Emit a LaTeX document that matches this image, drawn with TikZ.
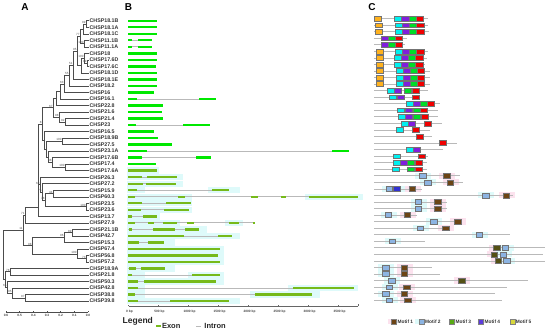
\documentclass[tikz,border=0pt]{standalone}
\usepackage{fontspec}
\setmainfont{Liberation Sans}
\usetikzlibrary{positioning}

\definecolor{exonlime}{RGB}{0,232,0}
\definecolor{exonolive}{RGB}{118,186,26}
\definecolor{introngrey}{RGB}{185,185,185}
\definecolor{bgcyan}{RGB}{222,250,250}
\definecolor{bgpink}{RGB}{252,226,238}
\definecolor{mfive}{RGB}{255,178,30}
\definecolor{mcyan}{RGB}{0,240,240}
\definecolor{mpurple}{RGB}{128,30,220}
\definecolor{mgreen}{RGB}{0,220,40}
\definecolor{mred}{RGB}{240,0,0}
\definecolor{mbrown}{RGB}{108,68,20}
\definecolor{mlblue}{RGB}{140,180,226}
\definecolor{mblue}{RGB}{50,50,210}
\definecolor{molive}{RGB}{84,80,20}
\definecolor{keygreen}{RGB}{88,170,20}
\definecolor{keyviolet}{RGB}{92,60,220}
\definecolor{keyyellow}{RGB}{215,215,60}
\colorlet{bgmlblue}{bgcyan}
\colorlet{bgmblue}{bgcyan}
\colorlet{bgmbrown}{bgpink}
\colorlet{bgmolive}{bgpink}

\tikzset{
  branch/.style={draw=black!70, line width=0.45pt},
  leaf/.style={anchor=west, inner sep=0.4pt, text=black!80,
    font=\fontsize{5.3}{6}\selectfont\bfseries},
  boot/.style={anchor=south east, inner sep=0.3pt, text=black!70,
    font=\fontsize{3}{3}\selectfont},
  ticklabel/.style={inner sep=0.5pt, text=black!75,
    font=\fontsize{3.2}{3.5}\selectfont\bfseries},
  panel/.style={inner sep=0pt, font=\fontsize{10}{10}\selectfont\bfseries},
  legtext/.style={anchor=west, inner sep=0pt, text=black!85,
    font=\fontsize{7.5}{8}\selectfont\bfseries},
  keytext/.style={inner sep=0pt, text=black!80,
    font=\fontsize{4.8}{5}\selectfont\bfseries},
  motif/.style={draw=black!55, line width=0.3pt},
  key/.style={inner sep=0pt, minimum width=5pt, minimum height=4.2pt,
    draw=black!50, line width=0.3pt},
}

\begin{document}
\begin{tikzpicture}[x=1pt, y=-1pt]
\useasboundingbox (0,0) rectangle (550,332);

% Panel letters
\node[panel] (labA) at (25,7.5) {A};
\node[panel] (labB) at (128.5,7.5) {B};
\node[panel] (labC) at (372,7.5) {C};

% Tip labels of the tree
\foreach \name [count=\i] in {CHSP18.1B, CHSP18.1A, CHSP18.1C, CHSP11.1B,
    CHSP11.1A, CHSP18, CHSP17.6D, CHSP17.6C, CHSP18.1D, CHSP18.1E, CHSP18.2,
    CHSP16, CHSP16.1, CHSP22.8, CHSP21.6, CHSP21.4, CHSP23, CHSP16.5,
    CHSP18.9B, CHSP27.5, CHSP23.1A, CHSP17.6B, CHSP17.4, CHSP17.6A, CHSP26.3,
    CHSP27.2, CHSP15.9, CHSP60.3, CHSP23.5, CHSP23.6, CHSP13.7, CHSP27.9,
    CHSP21.1B, CHSP42.7, CHSP15.3, CHSP67.4, CHSP56.8, CHSP57.2, CHSP18.9A,
    CHSP21.8, CHSP50.3, CHSP42.8, CHSP38.8, CHSP39.8}
  \node[leaf] (l\i) at (89,{20.7+6.52*(\i-1)}) {\name};

% Internal nodes of the tree
\coordinate (a1) at (86,24.0);
\coordinate (a2) at (83,28.9);
\coordinate (a3) at (84,43.6);
\coordinate (a4) at (80,36.2);
\coordinate (a5) at (87,63.1);
\coordinate (a6) at (84,58.2);
\coordinate (a7) at (81,65.5);
\coordinate (a8) at (77,50.9);
\coordinate (a9) at (73,65.1);
\coordinate (a10) at (69,75.5);
\coordinate (a11) at (64,84.0);
\coordinate (a12) at (60,91.4);
\coordinate (c1) at (56,98.5);
\coordinate (b1) at (65,121.8);
\coordinate (b2) at (59,116.9);
\coordinate (c2) at (53,107.7);
\coordinate (d1) at (62,141.3);
\coordinate (d2) at (65,167.4);
\coordinate (d3) at (52,162.5);
\coordinate (d4) at (48,156.8);
\coordinate (d5) at (46,149.1);
\coordinate (d6) at (44,140.3);
\coordinate (n8) at (42,124.0);
\coordinate (g1) at (53,193.5);
\coordinate (g3) at (86,206.6);
\coordinate (g2) at (45,200.0);
\coordinate (k2) at (42,191.9);
\coordinate (k1) at (40,184.6);
\coordinate (p) at (38.5,207.0);
\coordinate (q) at (25,214.9);
\coordinate (h1a) at (72,232.6);
\coordinate (h1b) at (64,237.5);
\coordinate (h2a) at (86,258.7);
\coordinate (h2b) at (77,253.8);
\coordinate (h) at (32,245.7);
\coordinate (r) at (23,230.3);
\coordinate (s1) at (10,271.7);
\coordinate (u) at (25,297.8);
\coordinate (t) at (12,292.9);
\coordinate (v) at (7,287.2);
\coordinate (w) at (5,279.5);
\coordinate (root) at (3.5,254.9);

% Draw branches
\foreach \p/\c in {a1/l1, a1/l2, a2/a1, a2/l3, a3/l4, a3/l5, a4/a2, a4/a3,
    a5/l7, a5/l8, a6/l6, a6/a5, a7/a6, a7/l9, a8/a4, a8/a7, a9/a8, a9/l10,
    a10/a9, a10/l11, a11/a10, a11/l12, a12/a11, a12/l13, c1/a12, c1/l14,
    b1/l16, b1/l17, b2/l15, b2/b1, c2/c1, c2/b2, d1/l19, d1/l20, d2/l23,
    d2/l24, d3/l22, d3/d2, d4/l21, d4/d3, d5/d1, d5/d4, d6/l18, d6/d5,
    n8/c2, n8/d6, g1/l27, g1/l28, g3/l29, g3/l30, g2/g1, g2/g3, k2/l26,
    k2/g2, k1/l25, k1/k2, p/n8, p/k1, p/l31, q/p, q/l32, h1a/l33, h1a/l34,
    h1b/h1a, h1b/l35, h2a/l37, h2a/l38, h2b/l36, h2b/h2a, h/h1b, h/h2b,
    r/q, r/h, s1/l39, s1/l40, u/l43, u/l44, t/l42, t/u, v/l41, v/t,
    w/s1, w/v, root/w, root/r}
  \draw[branch] (\p) |- (\c);

% Bootstrap values
\foreach \n/\v in {a1/99, a3/100, a4/77, a5/99, a6/100, a8/95, a9/51,
    a10/55, a11/63, c2/67, b1/92, b2/98, n8/8, d1/100, d2/100, d3/98,
    k1/63, k2/76, g1/44, g2/78, g3/100, q/71, r/11, h/98, h1a/89, h1b/96,
    h2a/73, h2b/100, s1/78, u/97, t/95, v/65}
  \node[boot] (bs-\n) at (\n) {\v};

% Scale of the tree
\draw[branch] (6,312) -- (88,312);
\foreach \s [count=\k] in {0.6, 0.5, 0.4, 0.3, 0.2, 0.1, 0.0} {
  \draw[branch] ({6+13.67*(\k-1)},312) -- ({6+13.67*(\k-1)},310.6);
  \node[ticklabel] (sc\k) at ({6+13.67*(\k-1)},315.5) {\s};
}

% Gene structures, upper rows
\foreach \r/\e/\ex in {1/157.3/{128.3/157.3}, 2/157.3/{128.3/157.3},
    3/157.3/{128.3/157.3}, 4/151.7/{128.3/131.7,138.3/151.7},
    5/151.7/{128.3/131.7,138.3/151.7}, 6/157.3/{128.3/157.3},
    7/156.7/{128.3/156.7}, 8/156/{128.3/156}, 9/156.7/{128.3/156.7},
    10/156.7/{128.3/156.7}, 11/157.3/{128.3/157.3}, 12/154.3/{128.3/154.3},
    13/215.7/{128.3/136.7,199/215.7}, 14/163.3/{128.3/163.3},
    15/162.3/{128.3/162.3}, 16/162.7/{128.3/162.7},
    17/210/{128.3/135.7,182.7/210}, 18/154.3/{128.3/154.3},
    19/158.3/{128.3/158.3}, 20/172.3/{128.3/172.3},
    21/349/{128.3/146.7,331.7/349}, 22/210.7/{128.3/142.3,195.7/210.7},
    23/156/{128.3/156}} {
  \pgfmathsetmacro\y{20.7+6.52*(\r-1)}
  \draw[introngrey, line width=0.7pt] (128.3,\y) -- (\e,\y);
  \foreach \a/\b in \ex
    \fill[exonlime] (\a,\y-1.2) rectangle (\b,\y+1.2);
}

% Gene structures, lower rows
\foreach \r/\e/\ex/\bg in {24/156.7/{128.3/156.7}/{126.5/159},
    25/176.7/{128.3/141.7,146.7/176.7}/{126.5/183},
    26/175.7/{128.3/143.3,146/175.7}/{126.5/183},
    27/229.3/{128.3/136.7,212.3/229.3}/{126.5/145,208/240},
    28/358.3/{128.3/135,178.3/185,251/257.7,281/285.7,309.3/358.3}/{126.5/192,305/363},
    29/191/{128.3/141.7,165.7/191}/{126.5/192},
    30/189/{128.3/141,164/189}/{126.5/192},
    31/157.3/{128.3/131.7,143.3/157.3}/{126.5/160},
    32/255/{128.3/135,147.7/154.3,162.7/176.7,186.7/194,229/239,253.3/255}/{126.5/180,225/243},
    33/199/{129/131.7,153.3/175,185/199}/{126.5/207},
    34/232.3/{128.3/184.3,217.7/232.3}/{126.5/240},
    35/164/{128.3/139,147.7/164}/{126.5/175},
    36/220/{128.3/220}/{126.5/224},
    37/217.7/{128.3/217.7}/{126.5/224},
    38/220/{128.3/220}/{126.5/224},
    39/165/{129/136,140.7/165}/{126.5/175},
    40/220/{128.3/131.7,191.7/220}/{126.5/145,188/224},
    41/215.7/{128.3/138.3,144/215.7}/{126.5/224},
    42/354/{128.3/137.7,292.7/354}/{126.5/145,288/358},
    43/312.3/{128.3/135,255/312.3}/{126.5/145,250/320},
    44/229/{128.3/137.7,170/229}/{126.5/240}} {
  \pgfmathsetmacro\y{20.7+6.52*(\r-1)}
  \foreach \a/\b in \bg
    \fill[bgcyan] (\a,\y-3.2) rectangle (\b,\y+3.2);
  \draw[introngrey, line width=0.7pt] (128.3,\y) -- (\e,\y);
  \foreach \a/\b in \ex
    \fill[exonolive] (\a,\y-1.2) rectangle (\b,\y+1.2);
}

% Length axis of the genes
\draw[black!60, line width=0.4pt] (128.5,306) -- (358,306);
\foreach \k in {0,...,7} {
  \pgfmathtruncatemacro\bp{500*\k}
  \draw[black!60, line width=0.4pt] (128.5+30*\k,306) -- (128.5+30*\k,304.8);
  \node[ticklabel] (bp\k) at (129.5+30*\k,311.5) {\bp{} bp};
}
\draw[black!60, line width=0.4pt] (358,306) -- (358,304.2);

% Legend of panel B
\node[legtext, font=\fontsize{8.5}{9}\selectfont\bfseries] (legtitle) at (122.5,321.5) {Legend};
\node[inner sep=0pt, minimum width=5.3pt, minimum height=2.2pt, fill=exonolive] (exonkey) at (158.3,326) {};
\node[legtext, right=0.7pt of exonkey] (exontext) {Exon};
\node[inner sep=0pt, minimum width=5pt, minimum height=0.8pt, fill=introngrey, right=15pt of exontext] (intronkey) {};
\node[legtext, right=3.3pt of intronkey] (introntext) {Intron};

% Motifs, upper rows
\foreach \r/\e/\ms in {
    1/428.3/{mfive/374.3,mcyan/394.3,mpurple/401.5,mgreen/408.7,mred/415.9},
    2/428.3/{mfive/375,mcyan/395,mpurple/402.2,mgreen/409.4,mred/416.6},
    3/429.3/{mfive/375,mcyan/395,mpurple/402.2,mgreen/409.4,mred/416.6},
    4/406.7/{mpurple/380.7,mgreen/387.9,mred/395.1},
    5/405/{mpurple/380.7,mgreen/387.9,mred/395.1},
    6/427.7/{mfive/375.7,mcyan/395,mpurple/402.2,mgreen/409.4,mred/416.6},
    7/426.7/{mfive/375.7,mcyan/394,mpurple/401.2,mgreen/408.4,mred/415.6},
    8/425/{mfive/375.7,mcyan/394,mpurple/401.2,mgreen/408.4,mred/415.6},
    9/430/{mfive/376.3,mcyan/395.7,mpurple/402.9,mgreen/410.1,mred/417.3},
    10/430/{mfive/376.3,mcyan/395.7,mpurple/402.9,mgreen/410.1,mred/417.3},
    11/430/{mfive/376.3,mcyan/395.7,mpurple/402.9,mgreen/410.1,mred/417.3},
    12/428.3/{mcyan/386.7,mpurple/394.3,mgreen/404.3,mred/411.7},
    13/420/{mcyan/389.3,mpurple/396.7,mred/411.7},
    14/440/{mcyan/405.7,mpurple/412.9,mgreen/420.1,mred/427.3},
    15/438.3/{mcyan/397.3,mpurple/405,mgreen/412.7,mred/420},
    16/438.3/{mcyan/397.7,mpurple/405,mgreen/413.3,mred/420.7},
    17/441.7/{mcyan/401,mpurple/408.2,mred/424.3},
    18/430/{mcyan/395.7,mred/412.3},
    19/431.7/{mred/415.7},
    20/456.7/{mred/439},
    21/443.3/{mcyan/406,mpurple/413.3},
    22/427.7/{mcyan/393.3,mred/417.7},
    23/426.7/{mcyan/392.7,mpurple/400,mgreen/407.3,mred/415},
    24/426.7/{mcyan/392.3,mgreen/407.3,mred/415}} {
  \pgfmathsetmacro\y{18.5+6.55*(\r-1)}
  \draw[introngrey, line width=0.6pt] (374.3,\y) -- (\e,\y);
  \foreach \c/\x in \ms
    \filldraw[motif, fill=\c] (\x,\y-2.4) rectangle ++(7.2,4.8);
}

% Motifs, lower rows
\foreach \r/\e/\ms in {
    25/460/{mlblue/419.3,mbrown/443.3}, 26/463.3/{mlblue/424.3,mbrown/446.7},
    27/421.7/{mlblue/386,mblue/393.3,mbrown/409},
    28/513.3/{mlblue/482.3,mbrown/502.7}, 29/446.7/{mlblue/415,mbrown/434.3},
    30/446.7/{mlblue/415,mbrown/434.3}, 31/416.7/{mlblue/385,mbrown/404},
    32/461.7/{mlblue/430.3,mbrown/454.3}, 33/450/{mlblue/416.7,mbrown/442.3},
    34/510/{mlblue/476}, 35/425/{mlblue/389},
    36/545/{molive/493.3,mlblue/501.7}, 37/543.3/{molive/491,mlblue/500},
    38/545/{molive/495,mlblue/503.3}, 39/431.7/{mlblue/382.3,mbrown/401},
    40/440/{mlblue/382.3,mbrown/401}, 41/528.3/{mlblue/388.3,molive/458.3},
    42/506.7/{mlblue/385.7,mbrown/403.3}, 43/495/{mlblue/382.3,mbrown/400.7},
    44/501.7/{mlblue/385.7,mbrown/404.3}} {
  \pgfmathsetmacro\y{18.5+6.55*(\r-1)}
  \foreach \c/\x in \ms
    \fill[bg\c] (\x-4,\y-3.1) rectangle (\x+12,\y+3.1);
  \draw[introngrey, line width=0.6pt] (374.3,\y) -- (\e,\y);
  \foreach \c/\x in \ms
    \filldraw[motif, fill=\c] (\x,\y-2.4) rectangle ++(6.5,4.8);
}

% Legend of panel C
\foreach \k/\c/\bgc/\x in {1/mbrown/bgpink/394, 2/mlblue/bgcyan/421.5,
    3/keygreen/white/452, 4/keyviolet/white/481, 5/keyyellow/white/512.3} {
  \fill[\bgc] (\x-6.5,319) rectangle (\x+2.5,324.4);
  \node[key, fill=\c] (key\k) at (\x,321.7) {};
  \node[keytext, right=0.8pt of key\k] (mtext\k) {Motif \k};
}
\end{tikzpicture}
\end{document}
